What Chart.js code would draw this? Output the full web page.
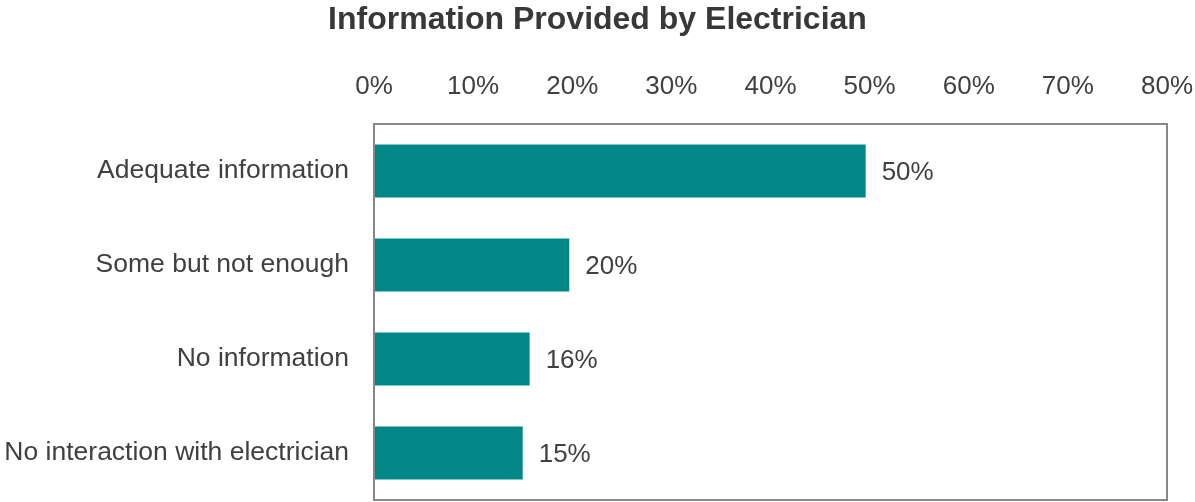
<!DOCTYPE html>
<html>
<head>
<meta charset="utf-8">
<script src="https://cdn.jsdelivr.net/npm/chart.js@4.4.0/dist/chart.umd.min.js"></script>
<style>
  html, body { margin: 0; padding: 0; background: #fff; }
  #wrap { width: 1195px; height: 502px; }
</style>
</head>
<body>
<div id="wrap"><canvas id="infoChart" width="1195" height="502"></canvas></div>
<script>
const kategori = ["Adequate information", "Some but not enough", "No information", "No interaction with electrician"];
const nilai = [0.496, 0.197, 0.157, 0.150];
const tickPersen = [0, 0.1, 0.2, 0.3, 0.4, 0.5, 0.6, 0.7, 0.8];

const warnaTeks = '#404040';
const fontUtama = '"Liberation Sans", Arial, sans-serif';

// kotak abu-abu di sekeliling area plot
const kotakPlot = {
    id: 'kotakPlot',
    afterDatasetsDraw(chart) {
        const a = chart.chartArea;
        const ctx = chart.ctx;
        ctx.save();
        ctx.strokeStyle = '#878787';
        ctx.lineWidth = 2;
        ctx.strokeRect(a.left, a.top, a.right - a.left, a.bottom - a.top);
        ctx.restore();
    }
};

// label persen di ujung batang
const labelBatang = {
    id: 'labelBatang',
    afterDatasetsDraw(chart) {
        const ctx = chart.ctx;
        const meta = chart.getDatasetMeta(0);
        ctx.save();
        ctx.font = '26px ' + fontUtama;
        ctx.fillStyle = warnaTeks;
        ctx.textAlign = 'left';
        ctx.textBaseline = 'middle';
        meta.data.forEach((bar, i) => {
            ctx.fillText(Math.round(nilai[i] * 100) + '%', bar.x + 16, bar.y + 2);
        });
        ctx.restore();
    }
};

const ctx = document.getElementById('infoChart').getContext('2d');
const infoChart = new Chart(ctx, {
    type: 'bar',
    data: {
        labels: kategori,
        datasets: [{
            data: nilai,
            backgroundColor: '#008786',
            borderWidth: 0,
            categoryPercentage: 1.0,
            barPercentage: 0.565
        }]
    },
    options: {
        indexAxis: 'y',
        responsive: false,
        animation: false,
        layout: { padding: { left: 0, right: 0, top: 0, bottom: 2 } },
        scales: {
            x: {
                position: 'top',
                min: 0,
                max: 0.8,
                afterBuildTicks(scale) {
                    scale.ticks = tickPersen.map(v => ({ value: v }));
                },
                afterFit(scale) {
                    scale.height = 124 - 40;
                    scale.paddingLeft = 0;
                    scale.paddingRight = 28;
                },
                grid: { display: false, drawTicks: false },
                border: { display: false },
                ticks: {
                    color: warnaTeks,
                    font: { size: 26, family: fontUtama },
                    padding: 22,
                    maxRotation: 0,
                    callback: v => Math.round(v * 100) + '%'
                }
            },
            y: {
                afterFit(scale) {
                    scale.width = 374;
                    scale.paddingTop = 0;
                    scale.paddingBottom = 0;
                },
                grid: { display: false, drawTicks: false },
                border: { display: false },
                ticks: {
                    color: warnaTeks,
                    font: { size: 26.5, family: fontUtama },
                    padding: 25
                }
            }
        },
        plugins: {
            legend: { display: false },
            tooltip: { enabled: false },
            title: {
                display: true,
                text: 'Information Provided by Electrician',
                color: '#383838',
                font: { size: 32, weight: 'bold', family: fontUtama },
                padding: { top: 1, bottom: 0.6 }
            }
        }
    },
    plugins: [kotakPlot, labelBatang]
});
</script>
</body>
</html>
